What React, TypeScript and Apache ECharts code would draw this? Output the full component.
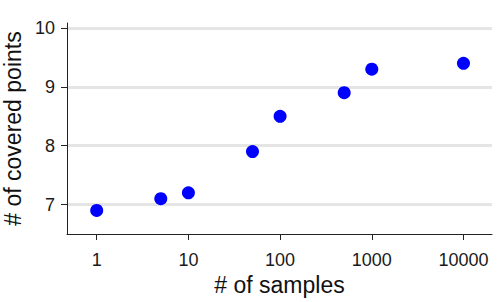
import React, { useEffect, useRef } from "react";
import * as echarts from "echarts";

const samples = [1, 5, 10, 50, 100, 500, 1000, 10000];
const coveredPoints = [6.9, 7.1, 7.2, 7.9, 8.5, 8.9, 9.3, 9.4];
const xTickValues = [1, 10, 100, 1000, 10000];
const yTickValues = [7, 8, 9, 10];

const FONT = "'Liberation Sans', Arial, sans-serif";

export default function App() {
  const ref = useRef<HTMLDivElement>(null);
  useEffect(() => {
    if (!ref.current) return;
    const chart = echarts.init(ref.current, undefined, { renderer: "svg" });
    const logTicks = xTickValues.map((v) => Math.log10(v));
    chart.setOption({
      animation: false,
      grid: { left: 67, right: 8, top: 23, bottom: 68, containLabel: false, outerBoundsMode: "none" },
      xAxis: {
        type: "value",
        min: -0.324,
        max: 4.311,
        name: "# of samples",
        nameLocation: "middle",
        nameGap: 38,
        nameTextStyle: { fontFamily: FONT, fontSize: 23, color: "#111" },
        axisLine: { onZero: false, lineStyle: { color: "#222", width: 1 } },
        axisTick: { show: true, length: 6, lineStyle: { color: "#222" }, customValues: logTicks },
        axisLabel: {
          customValues: logTicks,
          margin: 17,
          fontFamily: FONT,
          fontSize: 18,
          color: "#1a1a1a",
          formatter: (v: number) => String(Math.round(Math.pow(10, v))),
        },
        splitLine: { show: false },
      },
      yAxis: {
        type: "value",
        min: 6.5,
        max: 10.085,
        name: "# of covered points",
        nameLocation: "middle",
        nameRotate: 90,
        nameGap: 43,
        nameTextStyle: { fontFamily: FONT, fontSize: 23, color: "#111" },
        axisLine: { show: true, onZero: false, lineStyle: { color: "#222", width: 1 } },
        axisTick: { show: true, length: 6, lineStyle: { color: "#222" }, customValues: yTickValues },
        axisLabel: {
          customValues: yTickValues,
          margin: 12,
          fontFamily: FONT,
          fontSize: 18,
          color: "#1a1a1a",
        },
        splitLine: { show: true, lineStyle: { color: "#e5e5e5", width: 3 } },
      },
      series: [
        {
          type: "scatter",
          symbol: "circle",
          symbolSize: 13,
          itemStyle: { color: "#0000ff", opacity: 1 },
          data: samples.map((s, i) => [Math.log10(s), coveredPoints[i]]),
        },
      ],
    });
    return () => chart.dispose();
  }, []);
  return <div ref={ref} style={{ width: 500, height: 302, position: "absolute", left: 0, top: 0 }} />;
}
